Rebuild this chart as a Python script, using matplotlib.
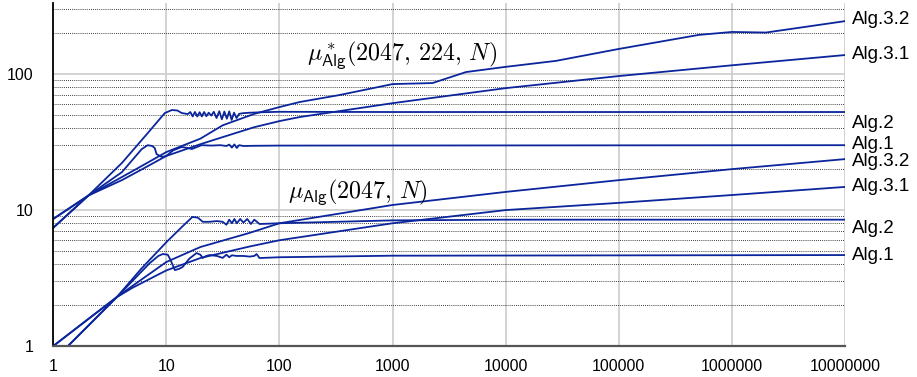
import numpy as np
import matplotlib.pyplot as plt
from matplotlib.ticker import LogLocator, FixedLocator, FuncFormatter, NullFormatter

plt.rcParams['font.family'] = ['Liberation Sans', 'DejaVu Sans']
plt.rcParams['mathtext.fontset'] = 'cm'

# ---- mu*_Alg(2047, 224, N) ----
x_up_alg2 = [1, 2.05, 4.05, 6.85, 9.7, 11.2, 12.5, 13.7, 15.5, 16.3, 17.1, 17.9, 18.8,
             19.7, 20.6, 21.6, 22.6, 23.7, 25.0, 26.3, 27.8, 29.4, 31.0, 32.6, 34.3,
             36.0, 37.8, 39.7, 41.8, 44.0, 48, 55, 70, 100, 1000, 1e7]
y_up_alg2 = [7.4, 12.8, 22.2, 36.8, 51.7, 54.4, 54.0, 51.7, 50.8, 52.6, 48.8, 52.6, 48.8,
             52.4, 48.8, 52.6, 49.0, 52.0, 49.5, 52.8, 47.5, 53.3, 46.5, 53.0, 47.0,
             53.2, 46.0, 52.0, 47.5, 51.0, 51.6, 52.0, 52.4, 52.8, 52.6, 52.6]

x_up_alg1 = [1, 2.05, 4.05, 6.07, 6.85, 7.5, 7.9, 8.2, 9.1, 10, 11.5, 13.7, 15.5, 16.8,
             18.5, 20.5, 25, 30, 34, 36, 38, 40, 42, 44, 48, 60, 100, 1e7]
y_up_alg1 = [7.4, 12.8, 19.0, 28.1, 30.0, 29.6, 28.6, 25.8, 24.6, 25.0, 27.5, 29.1, 28.6, 28.1,
             29.0, 30.0, 29.8, 30.0, 29.6, 30.3, 28.8, 30.4, 28.6, 30.0, 29.6, 29.7, 29.8, 30.0]

x_up_alg32 = [1, 2.05, 4.05, 6, 10, 20, 31.5, 60, 100, 151, 339, 1000, 2255, 4470, 1e4,
              27800, 1e5, 5.08e5, 1e6, 2e6, 1e7]
y_up_alg32 = [8.6, 12.8, 17.5, 21.0, 26.7, 33.5, 42.0, 51.0, 57.2, 62.3, 70.1, 84.4, 85.9,
              103.5, 113, 125, 153, 194, 204, 202, 245]

x_up_alg31 = [1, 2.05, 4.05, 6, 10, 20, 31.5, 60, 100, 151, 1000, 1e4, 1e5, 1e6, 1e7]
y_up_alg31 = [8.6, 12.8, 16.6, 19.8, 25.0, 30.5, 34.4, 40.7, 45.1, 48.3, 61.1, 78.8, 96.7, 116, 138]

# ---- mu_Alg(2047, N) ----
x_lo_alg2 = [1.35, 3.65, 6, 10, 13.7, 17, 19, 21, 24, 28, 31.5, 34, 36, 38, 40, 42, 45,
             48, 52, 56, 60, 66.7, 100, 1000, 1e4, 1e7]
y_lo_alg2 = [1, 2.29, 3.7, 5.8, 7.5, 8.9, 8.8, 8.2, 8.2, 8.3, 8.2, 7.8, 8.5, 8.0, 8.6, 8.0, 8.6,
             8.1, 8.6, 7.9, 8.5, 7.9, 8.0, 8.4, 8.5, 8.5]

x_lo_alg1 = [1.35, 3.65, 7.13, 8.5, 9.3, 10.3, 10.9, 11.9, 13.0, 13.9, 16, 18.5, 20, 21, 22.5,
             24.2, 28, 31.5, 34, 36, 38, 41.8, 48, 54.6, 60, 62.8, 66.7, 100, 1000, 1e7]
y_lo_alg1 = [1, 2.29, 4.07, 4.6, 4.75, 4.7, 4.3, 3.62, 3.7, 3.81, 4.4, 4.83, 4.7, 4.45, 4.6,
             4.67, 4.6, 4.45, 4.7, 4.5, 4.65, 4.6, 4.6, 4.55, 4.6, 4.75, 4.44, 4.5, 4.62, 4.67]

x_lo_alg32 = [1, 2, 3.65, 5.05, 10, 20, 54.6, 100, 1000, 1e4, 1e5, 1e6, 1e7]
y_lo_alg32 = [1, 1.56, 2.29, 2.78, 4.15, 5.35, 6.8, 8.0, 10.9, 13.6, 16.6, 20, 23.7]

x_lo_alg31 = [1, 2, 3.65, 5.05, 10, 20, 54.6, 100, 1000, 1e4, 1e5, 1e6, 1e7]
y_lo_alg31 = [1, 1.56, 2.29, 2.69, 3.6, 4.44, 5.4, 6.0, 8.0, 10.0, 11.3, 12.9, 14.8]

# right-hand labels and their heights
label_names = ['Alg.3.2', 'Alg.3.1', 'Alg.2', 'Alg.1',
               'Alg.3.2', 'Alg.3.1', 'Alg.2', 'Alg.1']
label_y = [250, 140, 43.6, 30.6, 22.9, 15.0, 7.38, 4.67]

xticks = [1, 10, 100, 1000, 10000, 100000, 1000000, 10000000]
yticks = [1, 10, 100]

line_color = '#0b259c'

fig = plt.figure(figsize=(9.17, 3.77), dpi=100)
ax = fig.add_axes([0.058, 0.082, 0.8635, 0.91])

series = [
    (x_up_alg2, y_up_alg2), (x_up_alg1, y_up_alg1),
    (x_up_alg32, y_up_alg32), (x_up_alg31, y_up_alg31),
    (x_lo_alg2, y_lo_alg2), (x_lo_alg1, y_lo_alg1),
    (x_lo_alg32, y_lo_alg32), (x_lo_alg31, y_lo_alg31),
]
for xs, ys in series:
    ax.plot(xs, ys, color=line_color, lw=1.3, solid_joinstyle='round')

ax.set_xscale('log')
ax.set_yscale('log')
ax.set_xlim(1, 1e7)
ax.set_ylim(1, 333)

ax.xaxis.set_major_locator(FixedLocator(xticks))
ax.yaxis.set_major_locator(FixedLocator(yticks))
ax.xaxis.set_major_formatter(FuncFormatter(lambda v, p: f'{int(round(v))}'))
ax.yaxis.set_major_formatter(FuncFormatter(lambda v, p: f'{int(round(v))}'))
ax.xaxis.set_minor_locator(FixedLocator([]))
ax.yaxis.set_minor_locator(LogLocator(base=10, subs=np.arange(2, 10)))
ax.yaxis.set_minor_formatter(NullFormatter())

ax.tick_params(axis='both', which='both', length=0, labelsize=11.5)
ax.tick_params(axis='x', pad=9)
ax.tick_params(axis='y', pad=14)

ax.grid(True, which='major', axis='both', color='#cccccc', lw=1.2)
ax.grid(True, which='minor', axis='y', color='black', lw=0.6, linestyle=(0, (1, 1.5)))
ax.set_axisbelow(True)

ax.spines['top'].set_visible(False)
ax.spines['right'].set_visible(False)
ax.spines['left'].set_color('black')
ax.spines['left'].set_linewidth(1.3)
ax.spines['bottom'].set_color('#555555')
ax.spines['bottom'].set_linewidth(1.6)

for name, yv in zip(label_names, label_y):
    ax.annotate(name, xy=(1e7, yv), xytext=(5, 0), textcoords='offset points',
                va='center', ha='left', fontsize=13.5, annotation_clip=False)

ax.text(177, 127, r'$\mu^*_{\mathsf{Alg}}(2047,\,224,\,N)$', fontsize=17.3,
        ha='left', va='baseline')
ax.text(118, 12.3, r'$\mu_{\mathsf{Alg}}(2047,\,N)$', fontsize=17.3,
        ha='left', va='baseline')

plt.savefig('out.png', dpi=100)
